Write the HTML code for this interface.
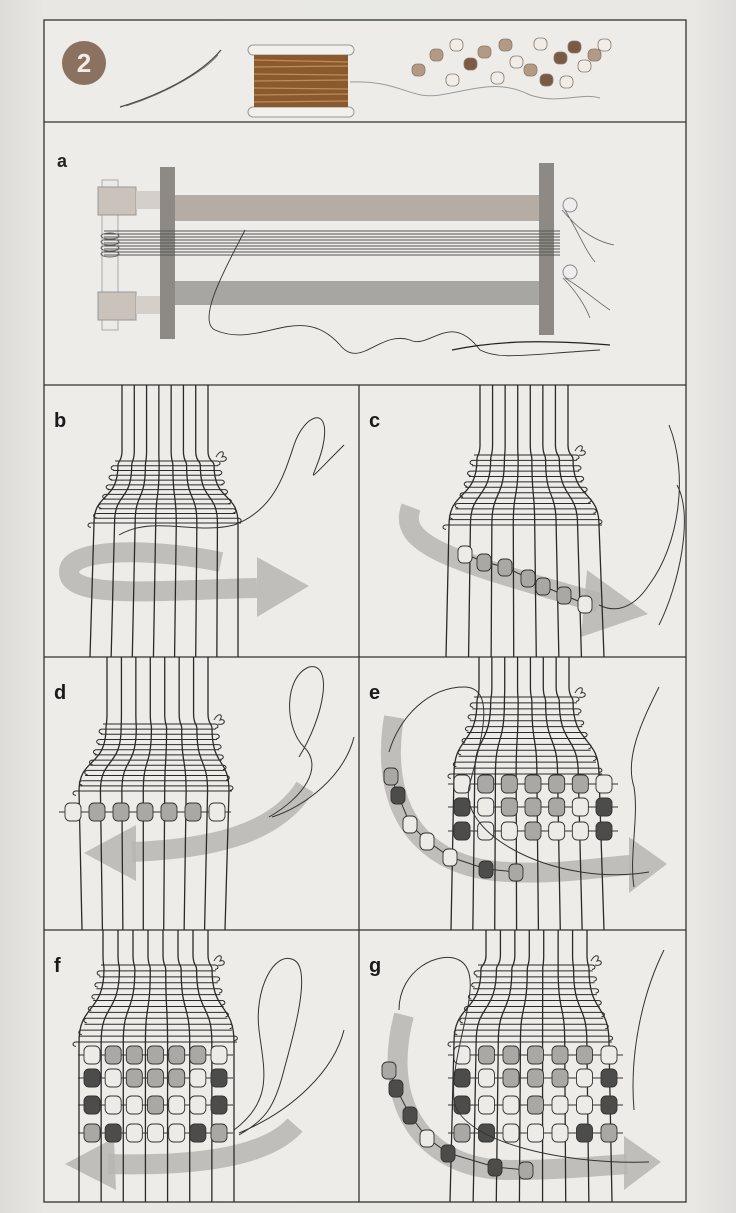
<!DOCTYPE html>
<html><head><meta charset="utf-8">
<style>
html,body{margin:0;padding:0;background:#e2e1de;}
svg{display:block;}
text{font-family:"Liberation Sans",sans-serif;font-weight:bold;}
</style></head>
<body>
<svg id="s" width="736" height="1213" viewBox="0 0 736 1213" xmlns="http://www.w3.org/2000/svg">
<defs>
<linearGradient id="paper" x1="0" x2="1"><stop offset="0" stop-color="#dddcd9"/><stop offset="0.06" stop-color="#e8e7e4"/><stop offset="0.94" stop-color="#e9e8e5"/><stop offset="1" stop-color="#dedddb"/></linearGradient>
</defs>
<rect width="736" height="1213" fill="url(#paper)"/>
<rect x="44" y="20" width="642" height="1182" fill="#edece9" stroke="#333" stroke-width="1.3"/>
<g stroke="#333" stroke-width="1.3">
<line x1="44" y1="122" x2="686" y2="122"/><line x1="44" y1="385" x2="686" y2="385"/>
<line x1="44" y1="657" x2="686" y2="657"/><line x1="44" y1="930" x2="686" y2="930"/>
<line x1="359" y1="385" x2="359" y2="1202"/>
</g>
<g>
<circle cx="84" cy="63" r="22" fill="#8a7160"/>
<text x="84" y="72" font-size="26" fill="#f2ece6" text-anchor="middle">2</text>
<path d="M120,107 C160,95 200,75 221,50" stroke="#444" fill="none" stroke-width="1.2"/>
<path d="M126,106 C170,92 205,70 218,55" stroke="#666" fill="none" stroke-width="0.8"/>
<g>
<rect x="248" y="45" width="106" height="10" rx="5" fill="#f1f0ed" stroke="#999"/>
<rect x="248" y="107" width="106" height="10" rx="5" fill="#f1f0ed" stroke="#999"/>
<rect x="254" y="55" width="94" height="52" fill="#8a5a2e"/>
<g stroke="#c89a62" stroke-width="1.2" opacity="0.8">
<line x1="254" y1="60" x2="348" y2="62"/><line x1="254" y1="67" x2="348" y2="66"/><line x1="254" y1="74" x2="348" y2="75"/><line x1="254" y1="81" x2="348" y2="80"/><line x1="254" y1="88" x2="348" y2="89"/><line x1="254" y1="95" x2="348" y2="94"/><line x1="254" y1="102" x2="348" y2="101"/>
</g>
</g>
<path d="M350,82 C400,80 410,100 440,95 C480,88 500,80 530,95 C560,105 580,92 600,98" stroke="#999" fill="none" stroke-width="1"/>
<g id="loose"></g>
</g>
<g>
<text x="57" y="167" font-size="18" fill="#222">a</text>
<rect x="102" y="180" width="16" height="150" fill="#eceae6" stroke="#aaa"/>
<rect x="98" y="187" width="38" height="28" fill="#c9c3bc" stroke="#999"/>
<rect x="98" y="292" width="38" height="28" fill="#c9c3bc" stroke="#999"/>
<rect x="136" y="191" width="26" height="18" fill="#d4cfc9"/>
<rect x="136" y="296" width="26" height="18" fill="#d4cfc9"/>
<rect x="175" y="195" width="365" height="26" fill="#b5aca3"/>
<rect x="175" y="281" width="365" height="24" fill="#a8a6a3"/>
<rect x="160" y="167" width="15" height="172" fill="#8d8984"/>
<rect x="539" y="163" width="15" height="172" fill="#8d8984"/>
<g id="warpA" stroke="#555" stroke-width="0.9"></g>
<circle cx="570" cy="205" r="7" fill="#eee" stroke="#888"/><circle cx="570" cy="272" r="7" fill="#eee" stroke="#888"/>
<path d="M562,210 C575,225 590,240 614,245 M565,210 C580,235 585,250 595,262 M565,278 C585,290 595,300 610,310 M563,278 C575,290 585,305 590,318" stroke="#666" fill="none" stroke-width="0.8"/>
<path d="M245,230 C230,260 195,320 215,330 C260,350 300,300 340,345 C360,370 380,330 410,340 C430,350 450,310 480,350 C500,360 520,355 600,350" stroke="#333" fill="none" stroke-width="0.9"/>
<path d="M452,350 C500,340 550,340 610,345" stroke="#222" fill="none" stroke-width="1.3"/>
</g>
<g id="panels"></g>
</svg>
<script>
const NS='http://www.w3.org/2000/svg';
const svg=document.getElementById('s');
function el(tag,attrs,parent){const e=document.createElementNS(NS,tag);for(const k in attrs)e.setAttribute(k,attrs[k]);(parent||svg).appendChild(e);return e;}
const beadFill={L:'#ecebe8',M:'#aaa8a4',D:'#4c4d4b'};
const looseX=[418,436,452,456,470,484,497,505,516,530,540,546,560,566,574,584,594,604];
const looseY=[70,55,80,45,64,52,78,45,62,70,44,80,58,82,47,66,55,45];
const looseC=['M','M','L','L','D','M','L','M','L','M','L','D','D','L','D','L','M','L'];
const lg=document.getElementById('loose');
looseX.forEach((x,i)=>{
  const b=el('rect',{x:x-6,y:looseY[i]-6,width:13,height:12,rx:5,fill:looseC[i]==='L'?'#f0ede8':looseC[i]==='M'?'#b39a85':'#7a5a45',stroke:'#8a7a6a','stroke-width':0.8},lg);
  
  
});
const wa=document.getElementById('warpA');
const warpAY=[231,234,237,240,243,246,249,252,255];
warpAY.forEach(y=>{el('line',{x1:104,y1:y,x2:560,y2:y},wa);});
for(let i=0;i<4;i++){el('ellipse',{cx:110,cy:236+i*6,rx:9,ry:3,fill:'none'},wa);}

const panelLabels=['b','c','d','e','f','g'];
const panelOX=[44,359,44,359,44,359];
const panelOY=[385,385,657,657,930,930];
const panelH=[272,272,273,273,272,272];
const topL=[78,121,63,120,59,127], topR=[164,209,164,210,164,228];
const wtY=[76,70,67,40,35,35], wtL=[74,118,62,118,60,122], wtR=[170,214,168,214,168,230];
const wbY=[138,140,134,117,112,112], wbL=[50,90,35,95,35,95], wbR=[194,240,185,240,190,250];
const botL=[46,87,38,92,35,91], botR=[194,245,181,245,190,253];
const beadRowY=[[],[],[155],[127,150,174],[125,148,175,203],[125,148,175,203]];
const beadXL=[0,0,21,95,40,95], beadXR=[0,0,181,253,183,258];
const beadColors=[[],[],['LMMMMML'],['LMMMMML','DLMMMLD','DLLMLLD'],['LMMMMML','DLMMMLD','DLLMLLD','MDLLLDM'],['LMMMMML','DLMMMLD','DLLMLLD','MDLLLDM']];
const chainX={1:[106,125,146,169,184,205,226],3:[32,39,51,68,91,127,157],5:[30,37,51,68,89,136,167]};
const chainY={1:[169,177,182,193,201,210,219],3:[119,138,167,184,200,212,215],5:[140,158,185,208,223,237,240]};
const chainC={1:'LMMMMML',3:'MDLLLDM',5:'MDDLDDM'};
const arrowPath=['M177,177 C120,165 25,160 25,187 C25,215 120,205 213,203','M52,122 C38,160 90,175 240,218','M261,130 C230,180 160,192 88,195','M35,60 C20,150 60,212 150,215 C200,218 240,210 272,208','M251,195 C220,230 140,236 64,234','M45,85 C20,180 70,240 150,240 C200,240 240,236 268,234'];
const arrowHead=['213,172 265,201 213,232','228,185 289,229 222,252','92,168 40,196 92,224','270,180 308,207 270,236','70,208 21,234 72,260','265,206 302,232 265,260'];
const threadPath=['M75,150 C110,130 150,150 190,140 C230,125 240,90 250,60 C260,30 285,20 280,55 C275,90 250,110 300,60',
 'M310,40 C330,90 320,160 290,200 C270,230 250,225 240,220 M318,100 C335,130 320,200 300,240',
 'M225,160 C260,140 280,110 260,90 C240,70 240,20 265,10 C290,5 280,60 255,100 M228,160 C260,150 300,120 310,80',
 'M30,95 C40,60 70,30 105,30 C140,30 120,90 110,130 C100,180 200,230 290,215 M300,30 C285,60 265,100 275,130 C280,160 270,200 275,230',
 'M190,200 C230,170 220,140 215,100 C210,60 230,20 250,30 C270,40 245,120 240,140 C230,180 220,190 195,205 M195,203 C250,180 290,140 300,100',
 'M40,80 C40,40 80,20 100,30 C130,45 90,120 95,170 C100,210 200,235 290,232 M305,20 C285,60 270,120 275,180'];

const panelsG=document.getElementById('panels');
function lerp(a,b,t){return a+(b-a)*t;}
panelLabels.forEach((lab,p)=>{
  const g=el('g',{transform:`translate(${panelOX[p]},${panelOY[p]})`},panelsG);
  
  
  const h=panelH[p];
  const ap=el('path',{d:arrowPath[p],fill:'none',stroke:'#b7b6b3','stroke-width':20,opacity:0.85},g);
  
  
  const ah=el('polygon',{points:arrowHead[p],fill:'#b7b6b3',opacity:0.85},g);
  
  
  const wg=el('g',{stroke:'#2a2a2a','stroke-width':1.3,fill:'none'},g);
  
  
  for(let i=0;i<8;i++){
    const t=i/7;
    const x0=lerp(topL[p],topR[p],t), x1=lerp(wtL[p],wtR[p],t), x2=lerp(wbL[p],wbR[p],t), x3=lerp(botL[p],botR[p],t);
    const y1=wtY[p], y2=wbY[p];
    el('path',{d:`M${x0},0 L${x0},${y1-10} C${x0},${y1} ${x1},${y1} ${x1},${y1+4} C${x1},${(y1+y2)/2+10} ${x2},${(y1+y2)/2} ${x2},${y2} L${x3},${h}`},wg);
  }
  const fg=el('g',{stroke:'#2a2a2a','stroke-width':1,fill:'none'},g);
  
  
  const n=14;
  for(let r=0;r<n;r++){
    const t=r/(n-1);
    const y=lerp(wtY[p],wbY[p],t);
    const xl=lerp(wtL[p],wbL[p],t*t*0.6+t*0.4)-3, xr=lerp(wtR[p],wbR[p],t*t*0.6+t*0.4)+3;
    el('line',{x1:xl,y1:y,x2:xr,y2:y},fg);
    if(r%2===0) el('path',{d:`M${xr},${y} a3,2.2 0 0 1 0,4.4`},fg); else el('path',{d:`M${xl},${y} a3,2.2 0 0 0 0,4.4`},fg);
  }
  el('path',{d:`M${wtR[p]+2},${wtY[p]-4} c4,-8 10,-6 6,0 c6,-2 6,6 -2,4`,stroke:'#333',fill:'none','stroke-width':1},g);
  beadRowY[p].forEach((y,ri)=>{
    const xl=beadXL[p], xr=beadXR[p];
    el('line',{x1:xl-6,y1:y,x2:xr+6,y2:y,stroke:'#333','stroke-width':1},g);
    for(let k=0;k<7;k++){
      const cx=lerp(xl+8,xr-8,k/6);
      const b=el('rect',{x:cx-8,y:y-9,width:16,height:18,rx:5,fill:beadFill[beadColors[p][ri][k]],stroke:'#333','stroke-width':0.9},g);
      
      
    }
  });
  if(chainX[p]){
    el('polyline',{points:chainX[p].map((x,i)=>x+','+chainY[p][i]).join(' '),fill:'none',stroke:'#333','stroke-width':1},g);
    chainX[p].forEach((x,i)=>{
      const b=el('rect',{x:x-7,y:chainY[p][i]-8,width:14,height:17,rx:5,fill:beadFill[chainC[p][i]],stroke:'#333','stroke-width':0.9},g);
      
      
    });
  }
  const th=el('path',{d:threadPath[p],fill:'none',stroke:'#333','stroke-width':1},g);
  
  
  const lt=el('text',{x:10,y:42,'font-size':20,fill:'#1a1a1a'},g);
  lt.textContent=lab;
  
  
});
</script>
</body></html>
